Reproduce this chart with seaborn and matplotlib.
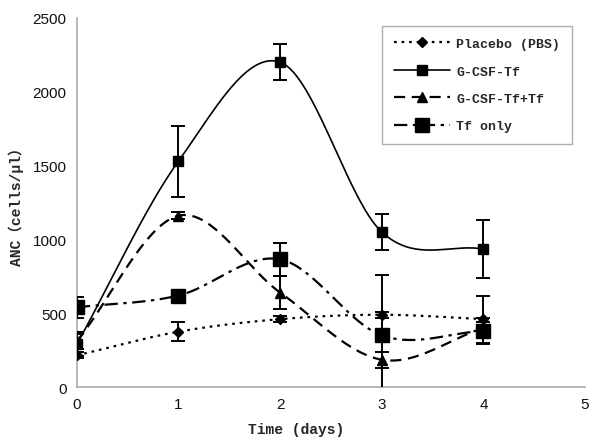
import numpy as np
import pandas as pd
import matplotlib
matplotlib.use("Agg")
import matplotlib.pyplot as plt
import seaborn as sns
from matplotlib.lines import Line2D

# ---------------------------------------------------------------
# Datos
# ---------------------------------------------------------------
days = [0, 1, 2, 3, 4]

placebo = [215, 375, 460, 490, 460]
placebo_err = [20, 65, 20, 20, 160]

gcsf_tf = [290, 1530, 2200, 1050, 935]
gcsf_tf_err = [80, 240, 120, 125, 195]

gcsf_tf_tf = [310, 1160, 640, 185, 400]
gcsf_tf_tf_err = [50, 25, 110, 55, 40]

tf_only = [540, 620, 865, 350, 380]
tf_only_err = [70, 20, 110, 410, 85]

labels = ["Placebo (PBS)", "G-CSF-Tf", "G-CSF-Tf+Tf", "Tf only"]

# ---------------------------------------------------------------
# Estilo
# ---------------------------------------------------------------
sns.set_theme(style="white")
plt.rcParams["font.family"] = ["Liberation Sans", "DejaVu Sans"]
label_font = ["Liberation Mono", "Noto Sans CJK SC", "DejaVu Sans"]


def smooth(x, y, n=40):
    # curva suavizada tipo Excel (Catmull-Rom) a partir de los puntos
    x = np.asarray(x, float)
    y = np.asarray(y, float)
    px = np.concatenate([[2 * x[0] - x[1]], x, [2 * x[-1] - x[-2]]])
    py = np.concatenate([[2 * y[0] - y[1]], y, [2 * y[-1] - y[-2]]])
    xs, ys = [], []
    t = np.linspace(0, 1, n)
    for i in range(1, len(px) - 2):
        for p, out in ((px, xs), (py, ys)):
            p0, p1, p2, p3 = p[i - 1], p[i], p[i + 1], p[i + 2]
            out.extend(0.5 * ((2 * p1) + (-p0 + p2) * t
                              + (2 * p0 - 5 * p1 + 4 * p2 - p3) * t ** 2
                              + (-p0 + 3 * p1 - 3 * p2 + p3) * t ** 3))
    return np.array(xs), np.array(ys)


series = [
    (placebo, placebo_err, (0, (1.2, 2.2)), "D", 5),
    (gcsf_tf, gcsf_tf_err, "-", "s", 6.5),
    (gcsf_tf_tf, gcsf_tf_tf_err, (0, (5, 3)), "^", 7),
    (tf_only, tf_only_err, (0, (6, 2.5, 1.5, 2.5)), "s", 10),
]
line_widths = [1.6, 1.2, 1.6, 1.6]

fig = plt.figure(figsize=(5.91, 4.39), dpi=100)
ax = fig.add_axes([0.130, 0.116, 0.860, 0.841])

handles = []
for (vals, err, ls, mk, ms), lw, lab in zip(series, line_widths, labels):
    sx, sy = smooth(days, vals)
    curve = pd.DataFrame({"x": sx, "y": sy})
    sns.lineplot(data=curve, x="x", y="y", sort=False, estimator=None,
                 color="black", linestyle=ls, linewidth=lw, ax=ax)
    ax.errorbar(days, vals, yerr=err, fmt="none", ecolor="black",
                elinewidth=1.4, capsize=5, capthick=1.4, zorder=3)
    ax.plot(days, vals, linestyle="none", marker=mk, markersize=ms,
            color="black", zorder=4)
    handles.append(Line2D([0], [0], color="black", linestyle=ls, linewidth=lw,
                          marker=mk, markersize=ms))

ax.set_xlim(0, 5)
ax.set_ylim(0, 2500)
ax.set_xticks(range(0, 6))
ax.set_yticks(range(0, 2501, 500))

for side in ["top", "right"]:
    ax.spines[side].set_visible(False)
for side in ["left", "bottom"]:
    ax.spines[side].set_color("#aaaaaa")
    ax.spines[side].set_linewidth(1.2)
ax.tick_params(axis="both", direction="out", length=4, width=1,
               color="#aaaaaa", labelsize=11, labelcolor="#111111")

ax.set_xlabel("Time (days)", family=label_font, fontsize=10.5,
              fontweight="bold")
ax.xaxis.set_label_coords(0.431, -0.095)
ax.set_ylabel("ANC（cells/μl）", family=label_font, fontsize=10.5,
              fontweight="bold", labelpad=6)

leg = ax.legend(handles, labels, loc="upper right",
                bbox_to_anchor=(572 / 591, 1 - 27 / 439),
                bbox_transform=fig.transFigure, borderaxespad=0,
                frameon=True, fancybox=False, handlelength=4.2,
                handletextpad=0.5, labelspacing=1.15, borderpad=0.9,
                prop={"family": label_font, "size": 9.5, "weight": "bold"})
leg.get_frame().set_edgecolor("#999999")
leg.get_frame().set_linewidth(1.0)

fig.savefig("out.png", dpi=100)
